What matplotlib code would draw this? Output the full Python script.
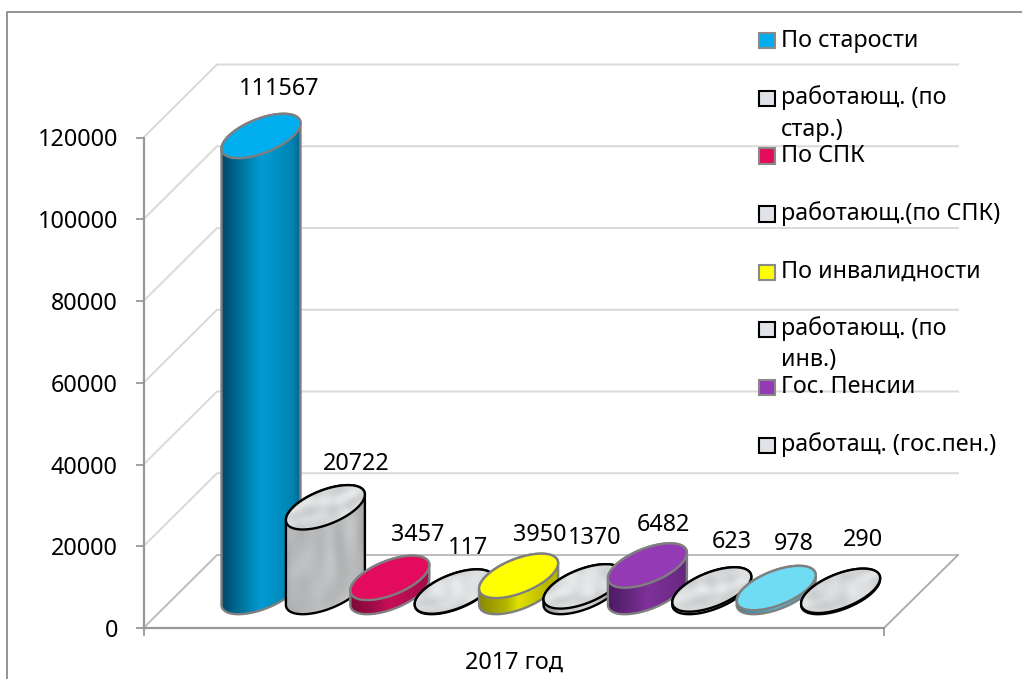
"""Pensioners 2017: 3D-looking cylinder chart drawn on a single matplotlib axes."""
import matplotlib
matplotlib.use("Agg")
import matplotlib.pyplot as plt
import numpy as np
from matplotlib.colors import LinearSegmentedColormap
from matplotlib.path import Path
from matplotlib.patches import PathPatch, Rectangle

plt.rcParams["font.family"] = ["Noto Sans", "DejaVu Sans"]

YEAR_LABEL = "2017 год"
VALUES = [111567, 20722, 3457, 117, 3950, 1370, 6482, 623, 978, 290]
SERIES = ["По старости", "работающ. (по\nстар.)", "По СПК", "работающ.(по СПК)",
          "По инвалидности", "работающ. (по\nинв.)", "Гос. Пенсии", "работащ. (гос.пен.)"]
Y_TICKS = [0, 20000, 40000, 60000, 80000, 100000, 120000]

# (top, shadow-dark, side-mid, side-bright, side-right); None means marble texture
STYLES = [
    ("#00adef", "#004a6b", "#0085b4", "#009bd2", "#006c94"),
    None,
    ("#e30b5d", "#7c0a38", "#a90d4c", "#c80e58", "#a50c49"),
    None,
    ("#ffff00", "#8a8a00", "#b5b500", "#e2e200", "#b8b800"),
    None,
    ("#953ab5", "#4c1a63", "#6d2a87", "#7f319b", "#652581"),
    None,
    ("#6fdcf3", "#3d8296", "#4ba0b8", "#5cb8cf", "#4596aa"),
    None,
]
LABEL_XY = [(279, 89), (356, 464), (417.5, 535), (468, 548), (539.5, 535),
            (595, 538), (663, 525), (732, 542), (794, 544), (863, 540)]

W, H = 1022, 679
X_L, X_R = 143.5, 884
Y_0, Y_120 = 628, 137.5
PX = (Y_0 - Y_120) / 120000  # pixels per unit
DEPTH = 73 / PX
BAR_X0, BAR_DX = 261, 64.4
BAR_BASE = (Y_0 - 592) / PX
ELL_W, ELL_H = 39.5, 22.2
PHI = np.radians(35)
GRID = "#d9d9d9"
AXIS = "#989898"
FONT_SIZE = 16.8


def yv(py):
    return (Y_0 - py) / PX


def ellipse(cx, cy, t):
    return cx + ELL_W * np.cos(t), cy + ELL_H / PX * np.sin(t + PHI)


def marble(nx, ny, shift, light, depth=0.03):
    # soft diagonal veins from a few sines, no noise
    u, v = np.meshgrid(np.linspace(0, 1, nx), np.linspace(0, 1, ny))
    d = u * 1.6 + v * 1.0 + shift
    w = (np.sin(d * 5 + 2.2 * np.sin(v * 5 + shift) + 1.2 * np.sin(u * 7))
         + 0.45 * np.sin(d * 11 + 2.5 * np.sin(u * 4 - v * 5) + shift)
         + 0.2 * np.sin(u * 21 - v * 9 + shift))
    g = light + depth * w
    return np.clip(np.dstack([g * 0.99, g, g * 1.005]), 0, 1)


fig = plt.figure(figsize=(W / 100, H / 100), dpi=100)
ax = fig.add_axes([X_L / W, 1 - Y_0 / H, (X_R - X_L) / W, (Y_0 - Y_120) / H])
ax.patch.set_alpha(0)

# outer chart border, open to the right and bottom of the crop
fig.add_artist(plt.Line2D([7 / W, 7 / W, 1], [0, 1 - 12 / H, 1 - 12 / H],
                          color="#8c8c8c", lw=1.3))

# walls
for v in Y_TICKS:
    back = v + DEPTH
    colour = "#bdbdbd" if v == 0 else GRID
    ax.plot([X_L, 217, 958], [v, back, back], color=colour, lw=1.4, clip_on=False, zorder=1)
ax.plot([X_R, 958], [0, DEPTH], color="#a8a8a8", lw=1.3, clip_on=False, zorder=1)

# cylinders, left one at the back
theta_up = np.linspace(0, np.pi, 80)
theta_dn = np.linspace(np.pi, 2 * np.pi, 80)
for i, (value, style) in enumerate(zip(VALUES, STYLES)):
    z = 3 + i * 3
    cx = BAR_X0 + BAR_DX * i
    top = BAR_BASE + value
    edge = "#7f7f7f" if style else "#000000"
    lw = 1.7

    xu, yu = ellipse(cx, top, theta_up)
    xd, yd = ellipse(cx, BAR_BASE, theta_dn)
    side = Path(np.r_[np.c_[xu, yu], np.c_[xd, yd], [[xu[0], yu[0]]]], closed=True)
    xe, ye = ellipse(cx, top, np.linspace(0, 2 * np.pi, 160))
    cap = Path(np.c_[xe, ye], closed=True)

    x0, x1 = cx - ELL_W, cx + ELL_W
    y0, y1 = BAR_BASE - ELL_H / PX, top + ELL_H / PX
    if style:
        ramp = LinearSegmentedColormap.from_list(
            "side", [(0, style[1]), (0.35, style[2]), (0.5, style[3]), (0.88, style[2]), (1, style[4])])
        img = ramp(np.linspace(0, 1, 80))[None, :, :3]
    else:
        img = marble(80, max(int((y1 - y0) * PX), 4), i, 0.74, 0.035)
        shade = 0.84 + 0.2 * np.sin(np.linspace(0.15, np.pi - 0.15, 80)) ** 0.7
        img = np.clip(img * shade[None, :, None], 0, 1)
    im = ax.imshow(img, extent=(x0, x1, y0, y1), aspect="auto", zorder=z,
                   interpolation="bilinear")
    im.set_clip_box(fig.bbox)
    im.set_clip_path(side, ax.transData)
    ax.add_patch(PathPatch(side, fc="none", ec=edge, lw=lw, zorder=z + 0.5, clip_on=False))

    if style:
        ax.add_patch(PathPatch(cap, fc=style[0], ec=edge, lw=lw, zorder=z + 1, clip_on=False))
    else:
        cap_im = ax.imshow(marble(80, 44, i + 3.3, 0.86, 0.035), aspect="auto", zorder=z + 1,
                           extent=(x0, x1, top - ELL_H / PX, top + ELL_H / PX),
                           interpolation="bilinear")
        cap_im.set_clip_box(fig.bbox)
        cap_im.set_clip_path(cap, ax.transData)
        ax.add_patch(PathPatch(cap, fc="none", ec=edge, lw=lw, zorder=z + 1.5, clip_on=False))

    lx, ly = LABEL_XY[i]
    ax.text(lx, yv(ly), str(value), ha="center", va="center", fontsize=FONT_SIZE,
            color="#000000", zorder=60, clip_on=False)

# axis
ax.set_xlim(X_L, X_R)
ax.set_ylim(0, 120000)
ax.set_yticks(Y_TICKS)
ax.set_xticks([X_L, X_R], labels=["", ""])
ax.tick_params(axis="both", length=5.5, width=1.3, color=AXIS, labelsize=FONT_SIZE, pad=13)
for name, spine in ax.spines.items():
    spine.set_visible(name in ("left", "bottom"))
    spine.set_color(AXIS)
    spine.set_linewidth(1.6)
    spine.set_zorder(2)
ax.text(514, yv(663), YEAR_LABEL, ha="center", va="center", fontsize=FONT_SIZE, clip_on=False)

# legend, placed by hand because the rows overlap like the original
row_y = [40.7, 98, 156, 214, 272, 329, 387, 445]
for i, (name, py) in enumerate(zip(SERIES, row_y)):
    style = STYLES[i]
    ax.add_patch(Rectangle((759, yv(py + 7.5)), 15.5, 15 / PX,
                           fc=style[0] if style else "#dfe2e7",
                           ec="#8a8a8a" if style else "#000000",
                           lw=1.5, zorder=70, clip_on=False))
    for k, line in enumerate(name.split("\n")):
        ax.text(781, yv(py + 31.5 * k), line, ha="left", va="center", fontsize=FONT_SIZE,
                zorder=70, clip_on=False)

fig.savefig("out.png", dpi=100)
plt.close(fig)
